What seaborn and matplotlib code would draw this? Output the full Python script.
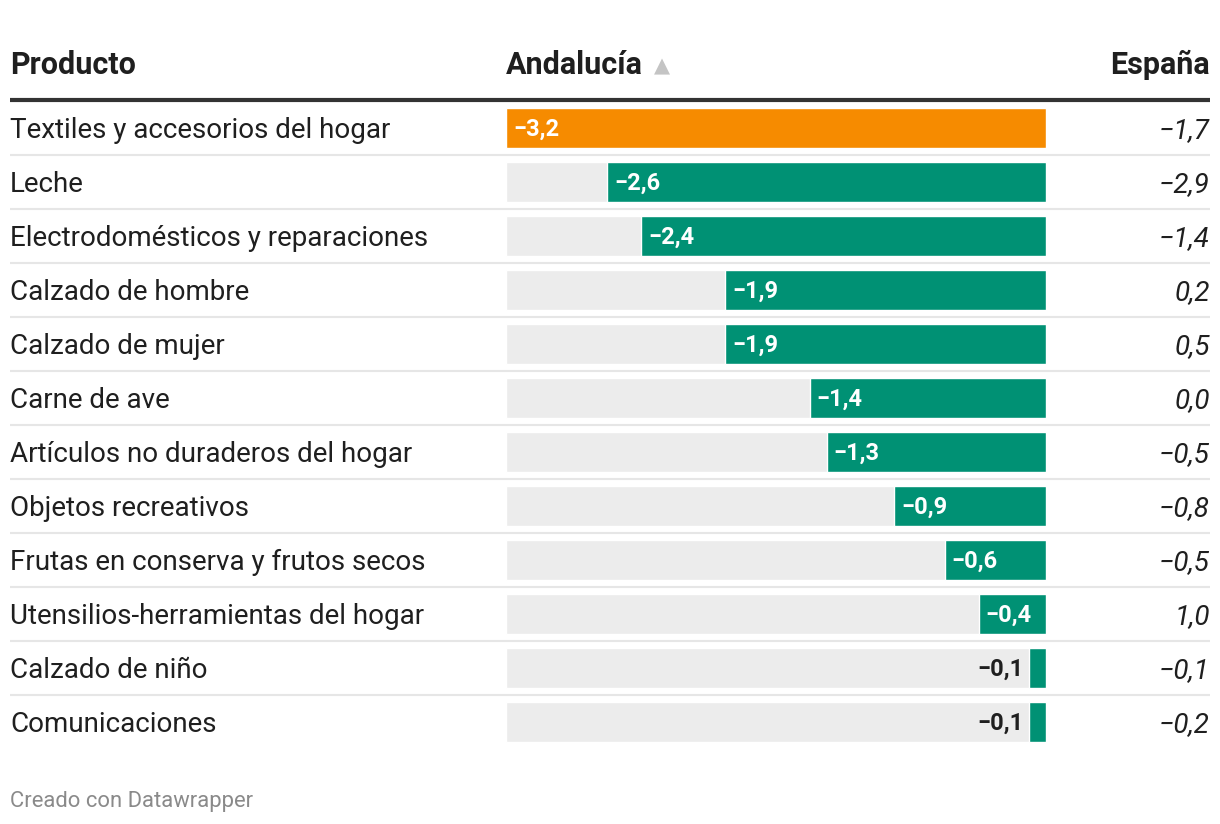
import numpy as np
import pandas as pd
import matplotlib
matplotlib.use('Agg')
import matplotlib.pyplot as plt
import matplotlib.transforms as mtransforms
import seaborn as sns

productos = ['Textiles y accesorios del hogar', 'Leche', 'Electrodomésticos y reparaciones',
             'Calzado de hombre', 'Calzado de mujer', 'Carne de ave',
             'Artículos no duraderos del hogar', 'Objetos recreativos',
             'Frutas en conserva y frutos secos', 'Utensilios-herramientas del hogar',
             'Calzado de niño', 'Comunicaciones']
andalucia = [-3.2, -2.6, -2.4, -1.9, -1.9, -1.4, -1.3, -0.9, -0.6, -0.4, -0.1, -0.1]
espana = [-1.7, -2.9, -1.4, 0.2, 0.5, 0.0, -0.5, -0.8, -0.5, 1.0, -0.1, -0.2]
highlight = 'Textiles y accesorios del hogar'

ORANGE = '#f68b00'
GREEN = '#009174'
TRACK = '#ececec'
TXT = '#1f1f1f'

def fmt(v):
    s = f'{abs(v):.1f}'.replace('.', ',')
    return ('\u2212' + s) if v < 0 else s

df = pd.DataFrame({'Producto': productos, 'Andalucia': andalucia, 'Espana': espana})
df['track'] = min(andalucia)

sns.set_style('white')
plt.rcParams['font.family'] = ['Roboto', 'DejaVu Sans']

W, H = 1220, 824
fig = plt.figure(figsize=(W / 100, H / 100), dpi=100)
# bar column: x 506..1046 px, rows 101..749 px
ax = fig.add_axes([506 / W, 1 - 749 / H, 540 / W, 648 / H])

sns.barplot(data=df, x='track', y='Producto', orient='h', color=TRACK, width=0.74,
            ax=ax, saturation=1)
colors = [ORANGE if p == highlight else GREEN for p in productos]
sns.barplot(data=df, x='Andalucia', y='Producto', hue='Producto', orient='h',
            palette=colors, width=0.74, ax=ax, saturation=1, legend=False)
ax.set_xlim(min(andalucia), 0)
ax.set_ylim(len(productos) - 0.5, -0.5)
ax.axis('off')

# value labels on the bars
for i, v in enumerate(andalucia):
    if abs(v) >= 0.3:
        ax.annotate(fmt(v), xy=(v, i + 0.15), xytext=(7, 0), textcoords='offset pixels',
                    ha='left', va='baseline', color='white', fontsize=17, fontweight='bold')
    else:
        ax.annotate(fmt(v), xy=(v, i + 0.15), xytext=(-6, 0), textcoords='offset pixels',
                    ha='right', va='baseline', color=TXT, fontsize=17, fontweight='bold')

# other table columns
tr = mtransforms.blended_transform_factory(fig.transFigure, ax.transData)
for i, (p, e) in enumerate(zip(productos, espana)):
    ax.text(10 / W, i + 0.19, p, transform=tr, ha='left', va='baseline',
            fontsize=20, color=TXT, clip_on=False)
    ax.text(1210 / W, i + 0.19, fmt(e), transform=tr, ha='right', va='baseline',
            fontsize=20, style='italic', color=TXT, clip_on=False)
    if i < len(productos) - 1:
        ax.plot([10 / W, 1210 / W], [i + 0.5, i + 0.5], transform=tr, color='#e6e6e6',
                lw=1.5, clip_on=False, solid_capstyle='butt')

# header
hy = 1 - 74 / H
fig.text(10 / W, hy, 'Producto', ha='left', va='baseline', fontsize=22,
         fontweight='bold', color=TXT)
fig.text(506 / W, hy, 'Andalucía', ha='left', va='baseline', fontsize=22,
         fontweight='bold', color=TXT)
fig.text(654 / W, 1 - 72 / H, '▲', ha='left', va='baseline', fontsize=15, color='#c4c4c4')
fig.text(1210 / W, hy, 'España', ha='right', va='baseline', fontsize=22,
         fontweight='bold', color=TXT)
fig.add_artist(plt.Line2D([10 / W, 1210 / W], [1 - 100 / H, 1 - 100 / H],
                          transform=fig.transFigure, color='#333333', lw=3,
                          solid_capstyle='butt'))

fig.text(10 / W, 1 - 807 / H, 'Creado con Datawrapper', ha='left', va='baseline',
         fontsize=15.8, color='#8a8a8a')

fig.savefig('out.png', dpi=100, facecolor='white')
